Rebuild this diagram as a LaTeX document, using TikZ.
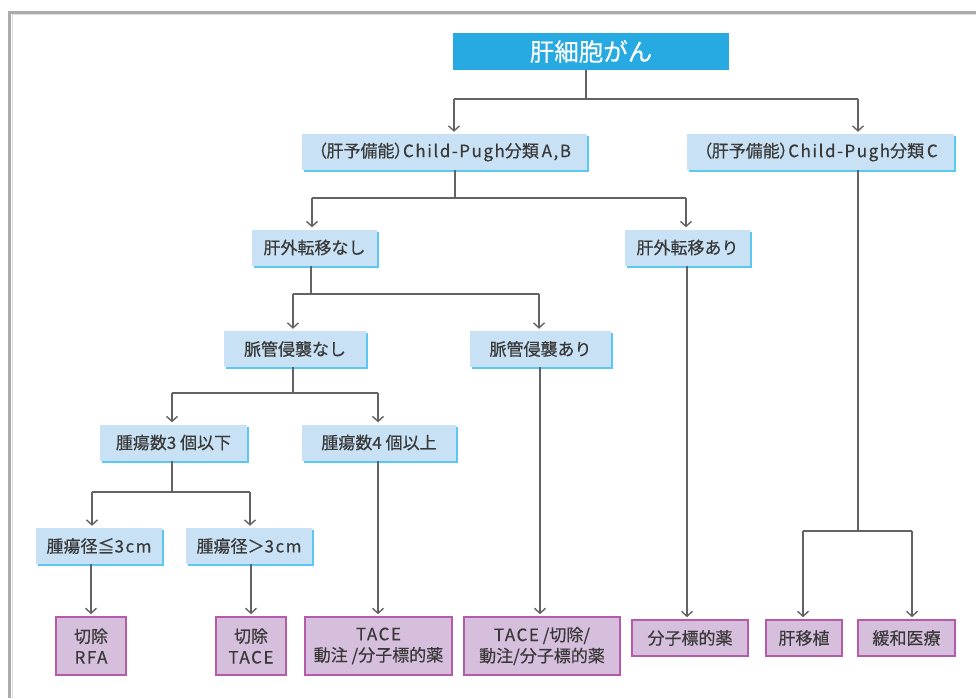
\documentclass[tikz,border=0pt]{standalone}
\usepackage{fontspec}
\setmainfont{Noto Sans CJK JP}[FakeBold=0.35]
\newcommand\lat[1]{{\addfontfeature{LetterSpace=9}#1}}
\newcommand\pl[1]{{\addfontfeature{RawFeature=+palt}#1}}
\usetikzlibrary{arrows.meta,shadows}
\definecolor{topblue}{HTML}{27AAE1}
\definecolor{lblue}{HTML}{C8E1F4}
\definecolor{sblue}{HTML}{5AC8F2}
\definecolor{pfill}{HTML}{D6BEDD}
\definecolor{pdraw}{HTML}{B65BAA}
\definecolor{lncol}{HTML}{636363}
\definecolor{txt}{HTML}{383838}
\definecolor{frm}{HTML}{ABABAB}
\tikzset{
  topbox/.style={fill=topblue, text=white, minimum width=#1, minimum height=37pt, inner sep=0pt, font=\fontsize{24.5}{26}\selectfont},
  bluebox/.style={fill=lblue, text=txt, minimum width=#1, minimum height=36pt, inner sep=0pt, font=\fontsize{17}{19}\selectfont,
    drop shadow={shadow xshift=2pt, shadow yshift=-2pt, fill=sblue, opacity=1}},
  pinkbox/.style={fill=pfill, draw=pdraw, line width=1.6pt, text=txt, minimum width=#1, inner sep=0pt, align=center, font=\fontsize{17}{21}\selectfont},
  ln/.style={draw=lncol, line width=1.8pt},
  arr/.style={ln, -{Straight Barb[length=5pt,width=11pt,line width=1.4pt]}, shorten >=2pt},
}
\begin{document}
\begin{tikzpicture}[x=1pt,y=-1pt]
\useasboundingbox (0,0) rectangle (976,698);
% frame
\draw[frm, line width=3pt] (9.5,698) -- (9.5,12.5) -- (980,12.5);
\draw[black!12, line width=1pt] (12,698) -- (12,15) -- (980,15);

% nodes
\node[topbox=276pt] (top) at (591,51.5) {肝細胞がん};
\node[bluebox=285pt] (AB) at (444.5,152) {\pl{（}肝予備能\pl{）}\lat{Child-Pugh}分類\,\lat{A,B}};
\node[bluebox=267pt] (C) at (820.5,152) {\pl{（}肝予備能\pl{）}\lat{Child-Pugh}分類\,\lat{C}};
\node[bluebox=125pt] (nasi) at (314.5,247.5) {肝外転移なし};
\node[bluebox=125pt] (ari) at (687.5,247.5) {肝外転移あり};
\node[bluebox=142pt] (mnasi) at (295,349) {脈管侵襲なし};
\node[bluebox=141pt] (mari) at (540.5,349) {脈管侵襲あり};
\node[bluebox=147pt] (n3) at (173.5,442.5) {腫瘍数\lat{3} 個以下};
\node[bluebox=154pt] (n4) at (379,442.5) {腫瘍数\lat{4} 個以上};
\node[bluebox=126pt] (d3) at (99,546) {腫瘍径≦\lat{3cm}};
\node[bluebox=126pt] (dg3) at (249,546) {腫瘍径＞\lat{3cm}};
\node[pinkbox=70pt, minimum height=58pt] (rfa) at (91,646) {切除\\\lat{RFA}};
\node[pinkbox=70pt, minimum height=58pt] (tace1) at (251,646) {切除\\\lat{TACE}};
\node[pinkbox=147pt, minimum height=58pt] (tace2) at (378.5,646) {\lat{TACE}\\動注 /分子標的薬};
\node[pinkbox=156pt, minimum height=58pt] (tace3) at (542,646) {\lat{TACE} /切除/\\動注/分子標的薬};
\node[pinkbox=116pt, minimum height=36pt] (bunshi) at (690,638) {分子標的薬};
\node[pinkbox=76pt, minimum height=36pt] (ishoku) at (804,638) {肝移植};
\node[pinkbox=97pt, minimum height=36pt] (kanwa) at (906.5,638) {緩和医療};

% bus coordinates
\coordinate (b0) at (586,99);  \coordinate (b0l) at (454,99);  \coordinate (b0r) at (858,99);
\coordinate (b1) at (455,198); \coordinate (b1l) at (312,198); \coordinate (b1r) at (686,198);
\coordinate (b2) at (311,294); \coordinate (b2l) at (293,294); \coordinate (b2r) at (539,294);
\coordinate (b3) at (293,393); \coordinate (b3l) at (172,393); \coordinate (b3r) at (378,393);
\coordinate (b4) at (172,492); \coordinate (b4l) at (92,492);  \coordinate (b4r) at (250,492);
\coordinate (b5) at (858,531); \coordinate (b5l) at (803,531); \coordinate (b5r) at (912,531);
\coordinate (xr) at (91,0); \coordinate (xt) at (251,0); \coordinate (xt2) at (378,0);
\coordinate (xt3) at (540,0); \coordinate (xb) at (687,0);

% connectors
\draw[ln] (top.south -| b0) -- (b0);
\draw[ln] (b0l) -- (b0r);
\draw[arr] (b0l) -- (AB.north -| b0l);
\draw[arr] (b0r) -- (C.north -| b0r);

\draw[ln] (AB.south -| b1) -- (b1);
\draw[ln] (b1l) -- (b1r);
\draw[arr] (b1l) -- (nasi.north -| b1l);
\draw[arr] (b1r) -- (ari.north -| b1r);

\draw[ln] (nasi.south -| b2) -- (b2);
\draw[ln] (b2l) -- (b2r);
\draw[arr] (b2l) -- (mnasi.north -| b2l);
\draw[arr] (b2r) -- (mari.north -| b2r);

\draw[ln] (mnasi.south -| b3) -- (b3);
\draw[ln] (b3l) -- (b3r);
\draw[arr] (b3l) -- (n3.north -| b3l);
\draw[arr] (b3r) -- (n4.north -| b3r);

\draw[ln] (n3.south -| b4) -- (b4);
\draw[ln] (b4l) -- (b4r);
\draw[arr] (b4l) -- (d3.north -| b4l);
\draw[arr] (b4r) -- (dg3.north -| b4r);

\draw[arr] (d3.south -| xr) -- (rfa.north -| xr);
\draw[arr] (dg3.south -| xt) -- (tace1.north -| xt);
\draw[arr] (n4.south -| xt2) -- (tace2.north -| xt2);
\draw[arr] (mari.south -| xt3) -- (tace3.north -| xt3);
\draw[arr] (ari.south -| xb) -- (bunshi.north -| xb);

\draw[ln] (C.south -| b5) -- (b5);
\draw[ln] (b5l) -- (b5r);
\draw[arr] (b5l) -- (ishoku.north -| b5l);
\draw[arr] (b5r) -- (kanwa.north -| b5r);
\end{tikzpicture}
\end{document}
